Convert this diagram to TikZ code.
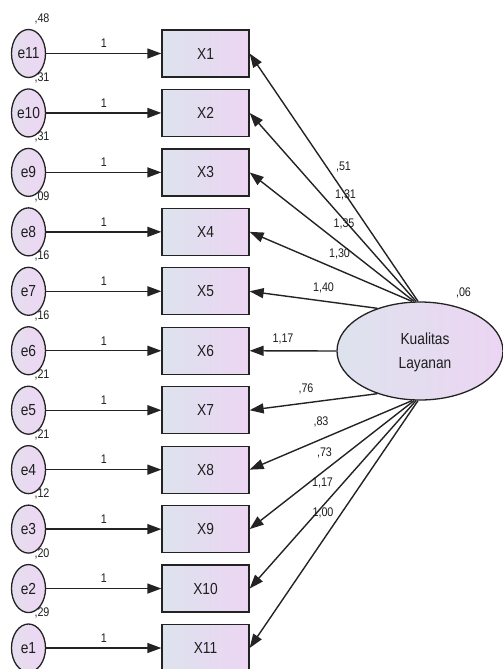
\documentclass[tikz,border=0pt]{standalone}
\usepackage{fontspec}
\setmainfont{Liberation Sans}[FakeStretch=0.86]
\usetikzlibrary{arrows.meta,calc,shapes.geometric}
\definecolor{boxL}{RGB}{221,227,237}
\definecolor{boxR}{RGB}{236,213,243}
\definecolor{cirL}{RGB}{228,222,238}
\definecolor{cirR}{RGB}{238,214,244}
\definecolor{edge}{RGB}{35,35,35}
\definecolor{txt}{RGB}{30,30,30}
\tikzset{
  obsbox/.style={draw=edge,line width=1.3pt,left color=boxL,right color=boxR,
    minimum width=87pt,minimum height=47pt,inner sep=0pt,text=txt,
    font=\fontsize{16}{18}\selectfont},
  errnode/.style={ellipse,draw=edge,line width=1.3pt,left color=cirL,right color=cirR,
    minimum width=34pt,minimum height=48pt,inner sep=0pt,text=txt,
    font=\fontsize{16}{18}\selectfont},
  latnode/.style={ellipse,draw=edge,line width=1.3pt,left color=boxL,right color=boxR,
    minimum width=166pt,minimum height=98pt,inner sep=0pt},
  conn/.style={line width=1.4pt,draw=edge,-{Triangle[length=14pt,width=10pt]}},
  lbl/.style={inner sep=0pt,text=txt,font=\fontsize{12.5}{14}\selectfont}
}
\begin{document}
\begin{tikzpicture}[x=1pt,y=-1pt]
\useasboundingbox (0,0) rectangle (503,669);
% latent variable
\node[latnode] (K) at (420,351) {};
\node[lbl,align=center,font=\fontsize{16}{24}\selectfont] (Kt) at (425,352) {Kualitas\\Layanan};
\node[lbl] (Kv) at (463.5,293) {,06};
% rows
\foreach \i/\e/\v in {1/11/{,48}, 2/10/{,31}, 3/9/{,31}, 4/8/{,09}, 5/7/{,16},
  6/6/{,16}, 7/5/{,21}, 8/4/{,21}, 9/3/{,12}, 10/2/{,20}, 11/1/{,29}}{
  \pgfmathsetmacro{\yy}{53.5+(\i-1)*59.45}
  \node[obsbox] (X\i) at (205.5,\yy) {X\i};
  \node[errnode] (e\e) at (28.5,\yy) {e\e};
  \node[lbl] (v\e) at (42,\yy-35) {\v};
  \draw[conn] (e\e) -- node[lbl,above=5pt] (one\e) {1} (X\i);
}
% loadings
\draw[conn] ([xshift=-2pt]K.north) -- (X1.east);
\draw[conn] ([xshift=-4pt]K.north) -- (X2.east);
\draw[conn] ([xshift=-6pt]K.north) -- (X3.east);
\draw[conn] ([xshift=-8pt]K.north) -- (X4.east);
\draw[conn] (K.135) -- (X5.east);
\draw[conn] (K.west) -- (X6.east);
\draw[conn] (K.225) -- (X7.east);
\draw[conn] ([xshift=-8pt]K.south) -- (X8.east);
\draw[conn] ([xshift=-6pt]K.south) -- (X9.east);
\draw[conn] ([xshift=-4pt]K.south) -- (X10.east);
\draw[conn] ([xshift=-2pt]K.south) -- (X11.east);
% loading labels
\node[lbl] (l1) at (343.5,167) {,51};
\node[lbl] (l2) at (345.5,195) {1,31};
\node[lbl] (l3) at (344,224) {1,35};
\node[lbl] (l4) at (339.5,254) {1,30};
\node[lbl] (l5) at (323.5,288) {1,40};
\node[lbl] (l6) at (283,338.5) {1,17};
\node[lbl] (l7) at (306,389) {,76};
\node[lbl] (l8) at (321,422) {,83};
\node[lbl] (l9) at (324.5,453) {,73};
\node[lbl] (l10) at (322.5,483) {1,17};
\node[lbl] (l11) at (323,513) {1,00};
\end{tikzpicture}
\end{document}
